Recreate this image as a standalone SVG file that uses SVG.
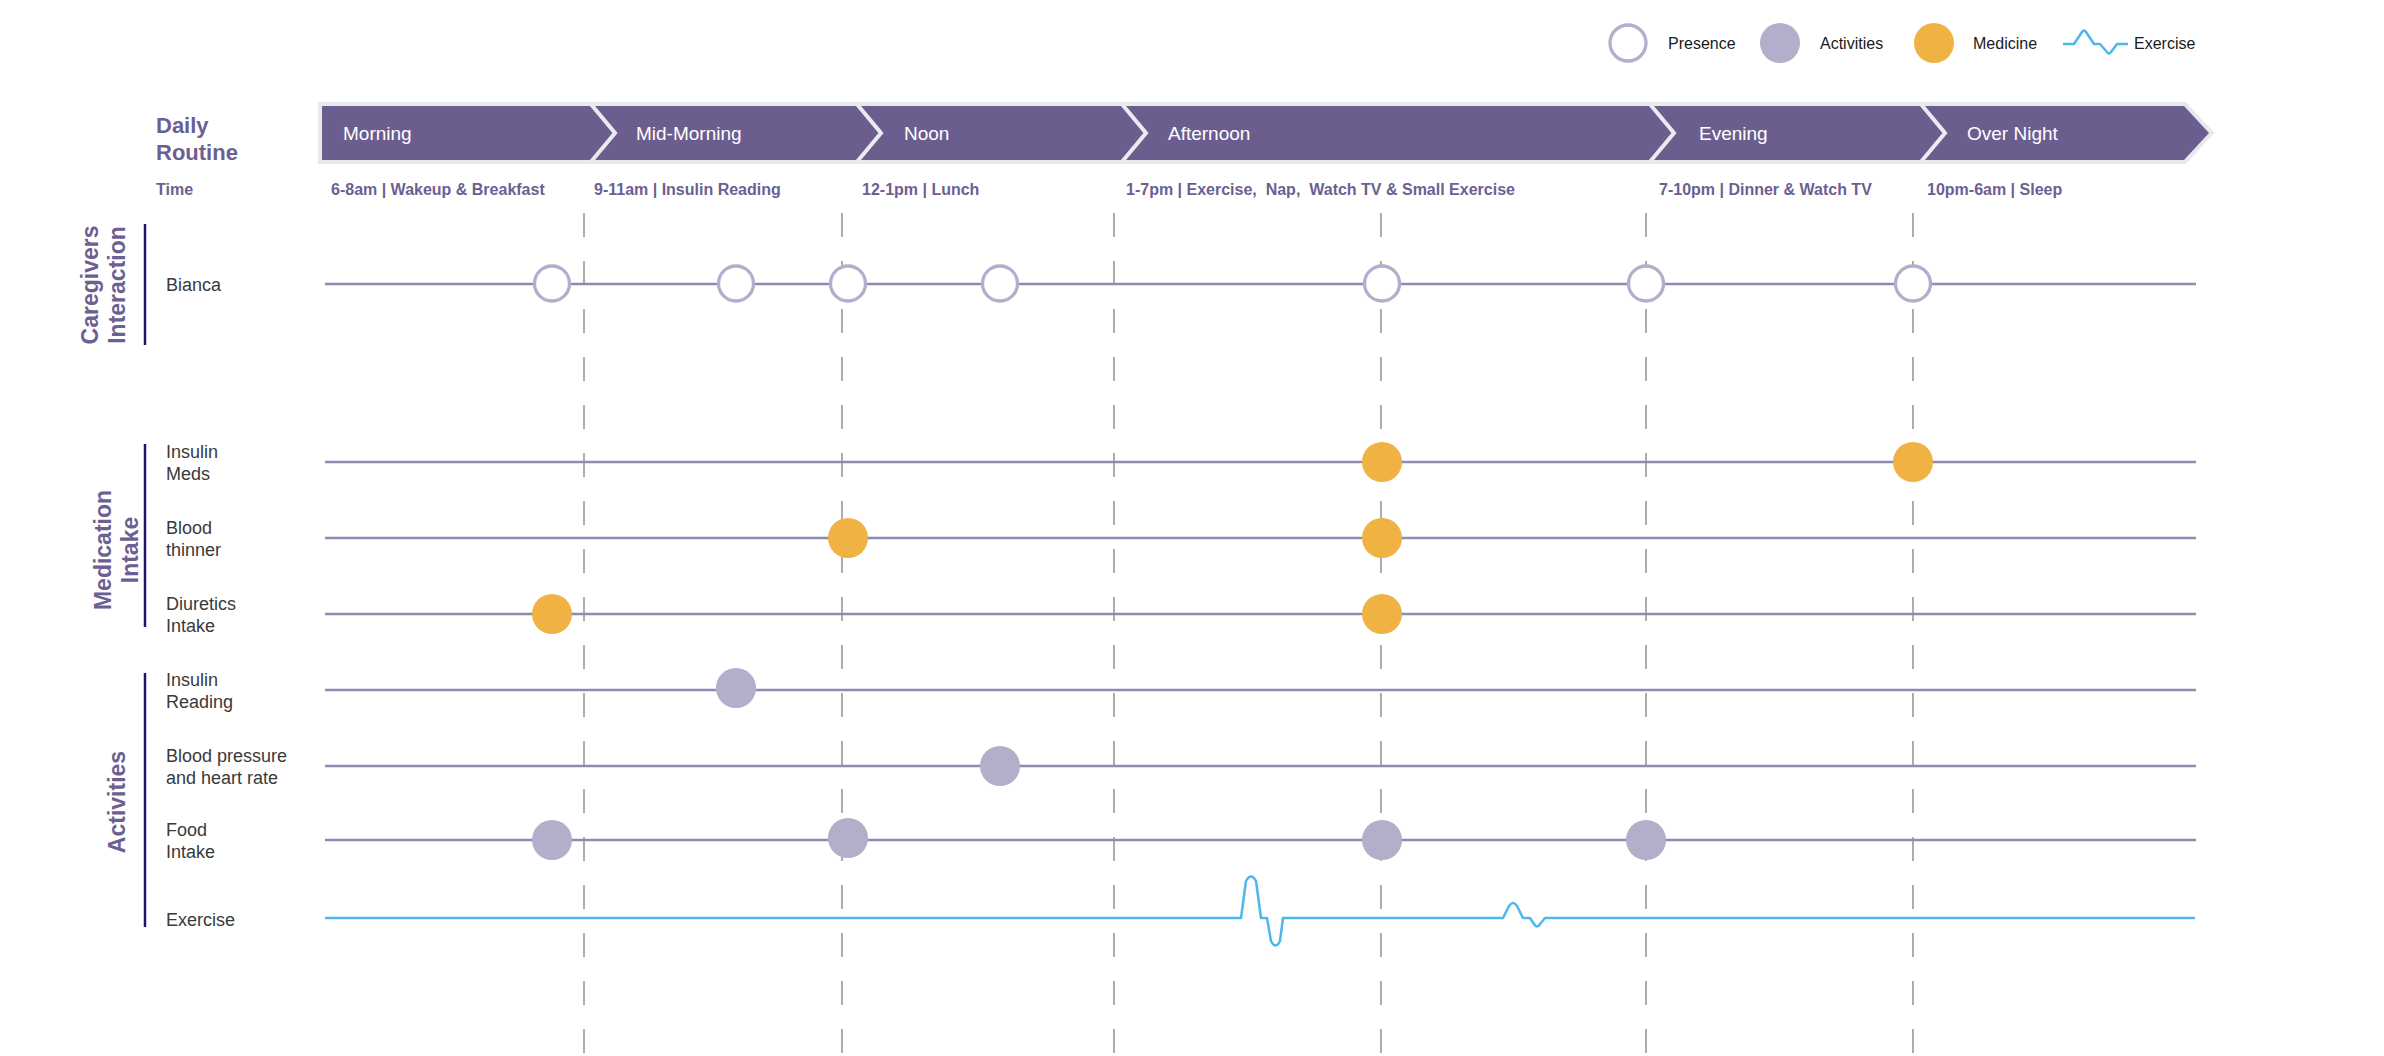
<svg xmlns="http://www.w3.org/2000/svg" width="2384" height="1056" viewBox="0 0 2384 1056">
<style>
  .bg{fill:#ffffff}
  .band{fill:#6b5e8f;stroke:#e7eaed;stroke-width:8;paint-order:stroke;stroke-linejoin:miter}
  .sep{fill:none;stroke:#e9ecef;stroke-width:4}
  .bandtxt{font-family:"Liberation Sans",Arial,sans-serif;font-size:19px;fill:#ffffff}
  .head{font-family:"Liberation Sans",Arial,sans-serif;font-weight:bold;font-size:22px;fill:#6b5f93}
  .time{font-family:"Liberation Sans",Arial,sans-serif;font-weight:bold;font-size:16px;fill:#6b5f93}
  .pre{white-space:pre}
  .group{font-family:"Liberation Sans",Arial,sans-serif;font-weight:bold;font-size:23px;fill:#6b5f93}
  .lbl{font-family:"Liberation Sans",Arial,sans-serif;font-size:18px;fill:#3a3a3a}
  .leg{font-family:"Liberation Sans",Arial,sans-serif;font-size:16px;fill:#1a1a1a}
  .bar{stroke:#1e1768;stroke-width:2.5}
  .row{stroke:#8f8ab3;stroke-width:2.5}
  .dash{stroke:#9a9a9a;stroke-width:1.6;stroke-dasharray:24 24}
  .wave{fill:none;stroke:#4db7ee;stroke-width:2.5;stroke-linejoin:round}
  .presence{fill:#ffffff;stroke:#b3aecb;stroke-width:3.3}
  .activity{fill:#b3aec9}
  .medicine{fill:#f0b243}
</style>
<rect class="bg" x="0" y="0" width="2384" height="1056"/>

<!-- Legend -->
<g id="legend">
  <circle class="presence" cx="1628" cy="43" r="18"/>
  <text class="leg" x="1668" y="49">Presence</text>
  <circle class="activity" cx="1780" cy="43" r="20"/>
  <text class="leg" x="1820" y="49">Activities</text>
  <circle class="medicine" cx="1934" cy="43" r="20"/>
  <text class="leg" x="1973" y="49">Medicine</text>
  <path class="wave" d="M2063,44 L2074,44 L2082,32 Q2084,29 2086,32 L2094,44 L2100,44 L2107,52 Q2109,55 2111,52 L2117,44 L2128,44"/>
  <text class="leg" x="2134" y="49">Exercise</text>
</g>

<!-- Header band -->
<g id="daily-routine">
  <text class="head" x="156" y="133">Daily</text>
  <text class="head" x="156" y="160">Routine</text>
  <text class="time" x="156" y="195">Time</text>
  <polygon class="band" points="322,106 2184,106 2209,133 2184,160 322,160"/>
  <polyline class="sep" points="590,103 615,133 590,163"/>
  <polyline class="sep" points="856,103 881,133 856,163"/>
  <polyline class="sep" points="1121,103 1146,133 1121,163"/>
  <polyline class="sep" points="1649,103 1674,133 1649,163"/>
  <polyline class="sep" points="1920,103 1945,133 1920,163"/>
</g>
<g id="period-morning">
  <text class="bandtxt" x="343" y="140">Morning</text>
  <text class="time" x="331" y="195">6-8am | Wakeup &amp; Breakfast</text>
</g>
<g id="period-midmorning">
  <text class="bandtxt" x="636" y="140">Mid-Morning</text>
  <text class="time" x="594" y="195">9-11am | Insulin Reading</text>
</g>
<g id="period-noon">
  <text class="bandtxt" x="904" y="140">Noon</text>
  <text class="time" x="862" y="195">12-1pm | Lunch</text>
</g>
<g id="period-afternoon">
  <text class="bandtxt" x="1168" y="140">Afternoon</text>
  <text class="time pre" x="1126" y="195">1-7pm | Exercise,  Nap,  Watch TV &amp; Small Exercise</text>
</g>
<g id="period-evening">
  <text class="bandtxt" x="1699" y="140">Evening</text>
  <text class="time" x="1659" y="195">7-10pm | Dinner &amp; Watch TV</text>
</g>
<g id="period-overnight">
  <text class="bandtxt" x="1967" y="140">Over Night</text>
  <text class="time" x="1927" y="195">10pm-6am | Sleep</text>
</g>

<!-- Connectors: time dividers, row lines, exercise trace -->
<g id="connectors">
  <line class="dash" x1="584" y1="213" x2="584" y2="1056"/>
  <line class="dash" x1="842" y1="213" x2="842" y2="1056"/>
  <line class="dash" x1="1114" y1="213" x2="1114" y2="1056"/>
  <line class="dash" x1="1381" y1="213" x2="1381" y2="1056"/>
  <line class="dash" x1="1646" y1="213" x2="1646" y2="1056"/>
  <line class="dash" x1="1913" y1="213" x2="1913" y2="1056"/>

  <line class="row" x1="325" y1="284" x2="2196" y2="284"/>
  <line class="row" x1="325" y1="462" x2="2196" y2="462"/>
  <line class="row" x1="325" y1="538" x2="2196" y2="538"/>
  <line class="row" x1="325" y1="614" x2="2196" y2="614"/>
  <line class="row" x1="325" y1="690" x2="2196" y2="690"/>
  <line class="row" x1="325" y1="766" x2="2196" y2="766"/>
  <line class="row" x1="325" y1="840" x2="2196" y2="840"/>
  <path class="wave" d="M325,918 L1241,918 L1246,881 Q1251,872 1256,881 L1261,918 L1267,918 L1271,941 Q1275.5,950 1280,941 L1283,918 L1503,918 L1509,906 Q1513,900 1517,906 L1523,918 L1530,918 L1534,924 Q1537,929 1540,924 L1545,918 L2195,918"/>
</g>

<!-- Group labels -->
<g id="group-caregivers">
  <line class="bar" x1="145" y1="224" x2="145" y2="345"/>
  <g transform="translate(97.5,285) rotate(-90)">
    <text class="group" x="0" y="0" text-anchor="middle">Caregivers</text>
    <text class="group" x="0" y="27.5" text-anchor="middle">Interaction</text>
  </g>
</g>
<g id="group-medication">
  <line class="bar" x1="145" y1="444" x2="145" y2="627"/>
  <g transform="translate(110.5,550) rotate(-90)">
    <text class="group" x="0" y="0" text-anchor="middle">Medication</text>
    <text class="group" x="0" y="27.5" text-anchor="middle">Intake</text>
  </g>
</g>
<g id="group-activities">
  <line class="bar" x1="145" y1="673" x2="145" y2="927"/>
  <g transform="translate(125,802) rotate(-90)">
    <text class="group" x="0" y="0" text-anchor="middle">Activities</text>
  </g>
</g>

<!-- Row labels -->
<g id="row-bianca"><text class="lbl" x="166" y="291">Bianca</text></g>
<g id="row-insulin-meds"><text class="lbl" x="166" y="458">Insulin</text><text class="lbl" x="166" y="480">Meds</text></g>
<g id="row-blood-thinner"><text class="lbl" x="166" y="534">Blood</text><text class="lbl" x="166" y="556">thinner</text></g>
<g id="row-diuretics"><text class="lbl" x="166" y="610">Diuretics</text><text class="lbl" x="166" y="632">Intake</text></g>
<g id="row-insulin-reading"><text class="lbl" x="166" y="686">Insulin</text><text class="lbl" x="166" y="708">Reading</text></g>
<g id="row-blood-pressure"><text class="lbl" x="166" y="762">Blood pressure</text><text class="lbl" x="166" y="784">and heart rate</text></g>
<g id="row-food"><text class="lbl" x="166" y="836">Food</text><text class="lbl" x="166" y="858">Intake</text></g>
<g id="row-exercise"><text class="lbl" x="166" y="926">Exercise</text></g>

<!-- Markers -->
<g id="presence-bianca">
  <circle class="presence" cx="552" cy="283.5" r="17.5"/>
  <circle class="presence" cx="736" cy="283.5" r="17.5"/>
  <circle class="presence" cx="848" cy="283.5" r="17.5"/>
  <circle class="presence" cx="1000" cy="283.5" r="17.5"/>
  <circle class="presence" cx="1382" cy="283.5" r="17.5"/>
  <circle class="presence" cx="1646" cy="283.5" r="17.5"/>
  <circle class="presence" cx="1913" cy="283.5" r="17.5"/>
</g>
<g id="medicine-insulin-meds">
  <circle class="medicine" cx="1382" cy="462" r="20"/>
  <circle class="medicine" cx="1913" cy="462" r="20"/>
</g>
<g id="medicine-blood-thinner">
  <circle class="medicine" cx="848" cy="538" r="20"/>
  <circle class="medicine" cx="1382" cy="538" r="20"/>
</g>
<g id="medicine-diuretics">
  <circle class="medicine" cx="552" cy="614" r="20"/>
  <circle class="medicine" cx="1382" cy="614" r="20"/>
</g>
<g id="activity-insulin-reading">
  <circle class="activity" cx="736" cy="688" r="20"/>
</g>
<g id="activity-blood-pressure">
  <circle class="activity" cx="1000" cy="766" r="20"/>
</g>
<g id="activity-food">
  <circle class="activity" cx="552" cy="840" r="20"/>
  <circle class="activity" cx="848" cy="838" r="20"/>
  <circle class="activity" cx="1382" cy="840" r="20"/>
  <circle class="activity" cx="1646" cy="840" r="20"/>
</g>
</svg>
